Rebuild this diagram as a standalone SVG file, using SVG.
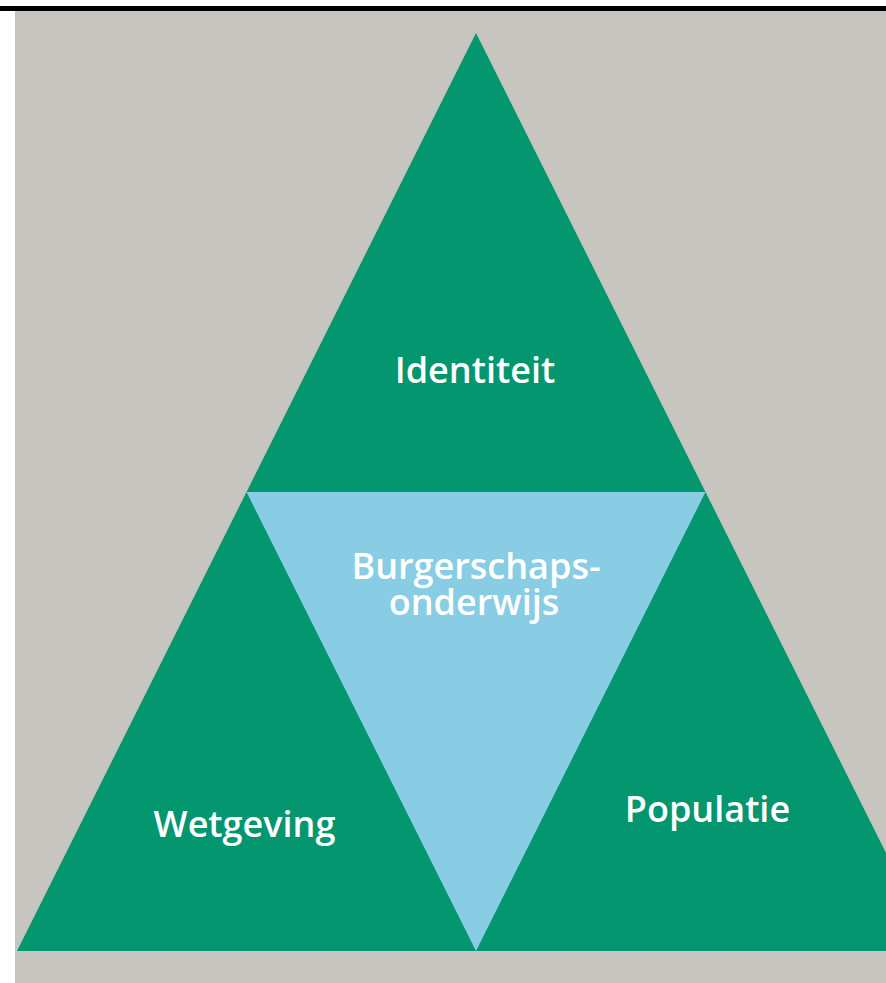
<svg xmlns="http://www.w3.org/2000/svg" width="886" height="983" viewBox="0 0 886 983">
<style>
.lbl{font-family:"Open Sans","Noto Sans",sans-serif;font-size:36px;font-weight:600;fill:#ffffff;text-anchor:middle}
.green{fill:#03966F}
.blue{fill:#88CDE4}
</style>
<rect x="0" y="0" width="886" height="983" fill="#ffffff"/>
<rect x="0" y="6" width="886" height="5" fill="#000000"/>
<rect x="15" y="11" width="871" height="972" fill="#C7C5C0"/>
<g id="outer">
<polygon class="green" points="476,33 935,951 17,951"/>
</g>
<g id="identiteit"><text class="lbl" x="475" y="383">Identiteit</text></g>
<g id="burgerschapsonderwijs">
<polygon class="blue" points="246.5,492 705.5,492 476,951"/>
<text class="lbl"><tspan x="476" y="579">Burgerschaps-</tspan><tspan x="474" y="615">onderwijs</tspan></text>
</g>
<g id="wetgeving"><text class="lbl" x="244.5" y="837">Wetgeving</text></g>
<g id="populatie"><text class="lbl" x="707.5" y="822">Populatie</text></g>
<g id="connectors"></g>
</svg>
